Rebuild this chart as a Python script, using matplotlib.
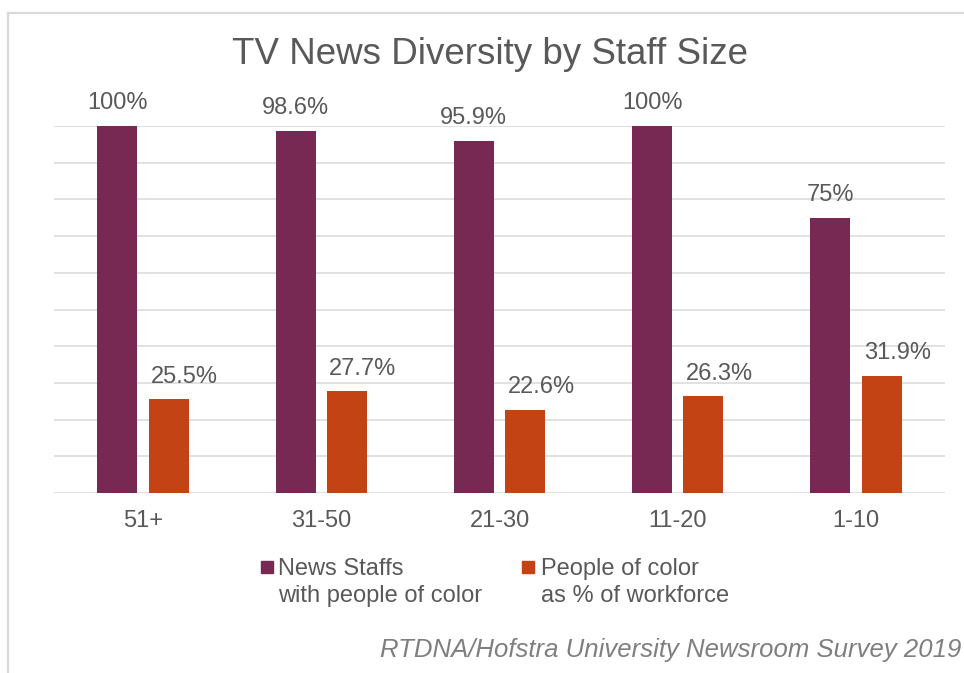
import matplotlib.pyplot as plt
import numpy as np
from matplotlib.lines import Line2D
from matplotlib.patches import Rectangle

plt.rcParams['font.family'] = ['Liberation Sans', 'DejaVu Sans']

# 数据
staff_sizes = ['51+', '31-50', '21-30', '11-20', '1-10']
staffs_with_poc = [100, 98.6, 95.9, 100, 75]
poc_share = [25.5, 27.7, 22.6, 26.3, 31.9]
staffs_labels = ['100%', '98.6%', '95.9%', '100%', '75%']
share_labels = ['25.5%', '27.7%', '22.6%', '26.3%', '31.9%']
legend_names = ['News Staffs\nwith people of color', 'People of color\nas % of workforce']

purple = '#772953'
orange = '#C44315'
text_grey = '#595959'
grid_grey = '#d9d9d9'

W, H = 964, 673
fig = plt.figure(figsize=(W / 100, H / 100), dpi=100)

# 外框（只露出左边和上边）
fig.add_artist(Line2D([7.5 / W, 1], [1 - 12.5 / H] * 2, color=grid_grey, lw=1.6))
fig.add_artist(Line2D([7.5 / W] * 2, [0, 1 - 12.5 / H], color=grid_grey, lw=1.6))

ax = fig.add_axes((54 / W, 1 - 493 / H, (945 - 54) / W, (493 - 126) / H))

x = np.arange(len(staff_sizes))
width = 0.2245
offset = 0.144
bars1 = ax.bar(x - offset, staffs_with_poc, width, color=purple, zorder=3)
bars2 = ax.bar(x + offset, poc_share, width, color=orange, zorder=3)

for rect, lab in zip(bars1, staffs_labels):
    ax.annotate(lab, (rect.get_x() + rect.get_width() / 2, rect.get_height()),
                xytext=(0, 12), textcoords='offset points', ha='center', va='baseline',
                fontsize=17, color=text_grey, annotation_clip=False)
for rect, lab in zip(bars2, share_labels):
    ax.annotate(lab, (rect.get_x() + rect.get_width() / 2, rect.get_height()),
                xytext=(11.5, 12), textcoords='offset points', ha='center', va='baseline',
                fontsize=17, color=text_grey, annotation_clip=False)

ax.set_xlim(-0.5, len(staff_sizes) - 0.5)
ax.set_ylim(0, 100)
ax.set_yticks(np.arange(0, 101, 10))
ax.yaxis.grid(True, color=grid_grey, lw=1.1, zorder=0)
ax.tick_params(axis='y', length=0, labelleft=False)
ax.set_xticks(x, staff_sizes)
ax.tick_params(axis='x', length=0, pad=12, labelsize=17, labelcolor=text_grey)
for s in ax.spines.values():
    s.set_visible(False)

fig.text(490.5 / W, 1 - 64.5 / H, 'TV News Diversity by Staff Size', ha='center', va='baseline',
         fontsize=26.5, color=text_grey)

# 图例
for (sx, tx), name, c in zip([(261, 278), (522, 541)], legend_names, [purple, orange]):
    fig.add_artist(Rectangle((sx / W, 1 - 573 / H), 12 / W, 12.5 / H, color=c,
                             transform=fig.transFigure))
    fig.text(tx / W, 1 - 558 / H, name, ha='left', va='top', fontsize=17,
             color=text_grey, linespacing=1.3)

fig.text(961 / W, 1 - 657.5 / H, 'RTDNA/Hofstra University Newsroom Survey 2019',
         ha='right', va='baseline', fontsize=18.5, style='italic', color='#7f7f7f')

fig.savefig('out.png', dpi=100)
